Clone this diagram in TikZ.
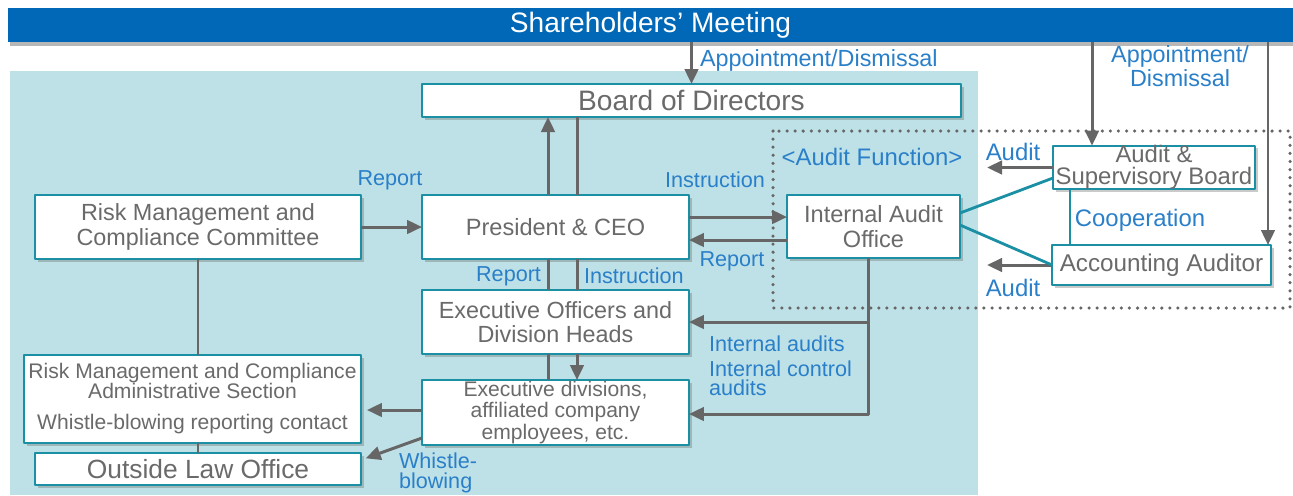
\documentclass[tikz,border=0pt]{standalone}
\usepackage{fontspec}
\setmainfont{Liberation Sans}
\usetikzlibrary{arrows.meta,positioning,calc,shadows}
\definecolor{barblue}{HTML}{0068B7}
\definecolor{panelblue}{HTML}{BEE1E7}
\definecolor{boxline}{HTML}{1B8FA3}
\definecolor{boxtext}{HTML}{6A6A6A}
\definecolor{lblblue}{HTML}{2A7FC9}
\definecolor{arrgray}{HTML}{666666}

\begin{document}
\begin{tikzpicture}[x=0.02cm, y=-0.02cm, line join=round,
                    every node/.style={outer sep=0pt}]

  \tikzset{
    box/.style={draw=boxline, fill=white, line width=1.1pt, inner sep=0pt, align=center,
                text=boxtext, font=\fontsize{13.4}{14}\selectfont,
                drop shadow={shadow xshift=1.6pt, shadow yshift=-1.6pt, opacity=0.35, fill=black!60}},
    bar/.style={fill=barblue, text=white, inner sep=0pt, font=\fontsize{16}{17}\selectfont,
                drop shadow={shadow xshift=1.2pt, shadow yshift=-2pt, opacity=0.4, fill=black!70}},
    lbl/.style={text=lblblue, font=\fontsize{12.3}{13}\selectfont, inner sep=0pt, align=left},
    biglbl/.style={lbl, font=\fontsize{13.6}{12}\selectfont},
    arr/.style={line width=1.7pt, draw=arrgray, -{Triangle[length=0.3cm, width=0.27cm]}},
    link/.style={line width=1.7pt, draw=arrgray},
    coop/.style={line width=1.6pt, draw=boxline},
    auditframe/.style={draw=arrgray, line width=2pt, line cap=round, dash pattern=on 0pt off 4.6pt}
  }

  \useasboundingbox (0,0) rectangle (1293,495);

  % Background
  \fill[panelblue] (10,71) rectangle (978,495);
  \draw[auditframe] (773,131) rectangle (1290,308);

  % Boxes
  \node[bar, minimum width=25.7cm, minimum height=0.68cm] (meeting) at (650.5,25) {Shareholders' Meeting};
  \node[box, minimum width=10.78cm, minimum height=0.66cm, font=\fontsize{16}{17}\selectfont] (board) at (691.5,100.5) {Board of Directors};
  \node[box, minimum width=5.34cm, minimum height=1.28cm] (ceo) at (555.5,227) {President \& CEO};
  \node[box, minimum width=6.52cm, minimum height=1.28cm, font=\fontsize{13.3}{13.8}\selectfont] (rmcc) at (198,227) {Risk Management and\\Compliance Committee};
  \node[box, minimum width=3.46cm, minimum height=1.26cm, font=\fontsize{13.4}{13.8}\selectfont] (iao) at (873.5,226.5) {Internal Audit\\Office};
  \node[box, minimum width=4.04cm, minimum height=0.82cm, font=\fontsize{13.6}{12.2}\selectfont] (asb) at (1154,167.5) {Audit \&\\Supervisory Board};
  \node[box, minimum width=4.38cm, minimum height=0.8cm, font=\fontsize{13.8}{14}\selectfont] (acct) at (1161.5,265) {Accounting Auditor};
  \node[box, minimum width=5.34cm, minimum height=1.28cm, font=\fontsize{13.3}{13.8}\selectfont] (eodh) at (555.5,322) {Executive Officers and\\Division Heads};
  \node[box, minimum width=5.34cm, minimum height=1.3cm, font=\fontsize{12}{12.2}\selectfont] (ediv) at (555.5,412.5) {Executive divisions,\\affiliated company\\employees, etc.};
  \node[box, minimum width=6.74cm, minimum height=1.76cm, font=\fontsize{12}{13}\selectfont] (rmcas) at (192.5,399) {Risk Management and Compliance\\[-2pt]Administrative Section\\[5pt]Whistle-blowing reporting contact};
  \node[box, minimum width=6.52cm, minimum height=0.64cm, font=\fontsize{15}{16}\selectfont] (law) at (198,469) {Outside Law Office};

  % Connectors
  \draw[arr] (meeting.south -| board.north) -- (board.north);
  \draw[arr] ([xshift=-0.15cm]ceo.north) -- ([xshift=-0.15cm]ceo.north |- board.south);
  \draw[link] ([xshift=0.43cm]board.south -| ceo.north) -- ([xshift=0.43cm]ceo.north);
  \draw[arr] (rmcc.east) -- (ceo.west);
  \draw[arr] ([yshift=0.2cm]ceo.east) -- ([yshift=0.2cm]ceo.east -| iao.west);
  \draw[arr] ([yshift=-0.26cm]ceo.east -| iao.west) -- ([yshift=-0.26cm]ceo.east);
  \draw[link] ([xshift=-0.15cm]ceo.south) -- ([xshift=-0.15cm]eodh.north);
  \draw[link] ([xshift=0.43cm]ceo.south) -- ([xshift=0.43cm]eodh.north);
  \draw[link] ([xshift=-0.15cm]eodh.south) -- ([xshift=-0.15cm]ediv.north);
  \draw[arr] ([xshift=0.43cm]eodh.south) -- ([xshift=0.43cm]ediv.north);
  \draw[arr] ([xshift=-0.11cm]iao.south) |- ([yshift=-0.03cm]ediv.east);
  \draw[arr] ([xshift=-0.11cm]iao.south |- eodh.east) -- (eodh.east);
  \draw[arr] ([xshift=-1.24cm]asb.north |- meeting.south) -- ([xshift=-1.24cm]asb.north);
  \draw[arr] ([xshift=-0.06cm]acct.north east |- meeting.south) -- ([xshift=-0.06cm]acct.north east);
  \draw[arr] (asb.west) -- ([xshift=-1.32cm]asb.west);
  \draw[arr] (acct.west) -- ([xshift=-1.3cm]acct.west);
  \draw[coop] ([yshift=0.27cm]iao.east) -- ([yshift=-0.21cm]asb.west);
  \draw[coop] ([yshift=0.03cm]iao.east) -- (acct.west);
  \draw[coop] ([xshift=-1.68cm]asb.south) -- ([xshift=-1.68cm]asb.south |- acct.north);
  \draw[link] (rmcc.south) -- (rmcc.south |- rmcas.north);
  \draw[link] (law.north |- rmcas.south) -- (law.north);
  \draw[arr, shorten >=0.12cm] ([yshift=0.05cm]ediv.west) -- ([yshift=0.05cm]ediv.west -| rmcas.east);
  \draw[arr, shorten >=0.1cm] ([yshift=-0.51cm]ediv.west) -- ([yshift=0.18cm]law.east);

  % Labels
  \node[lbl, anchor=west, font=\fontsize{13.3}{14}\selectfont] (lapp) at (700,60) {Appointment/Dismissal};
  \node[lbl, align=center, font=\fontsize{13.3}{12.2}\selectfont] (lapp2) at (1180,66) {Appointment/\\Dismissal};
  \node[lbl] (lrep1) at (390,180) {Report};
  \node[lbl] (linst1) at (715,180) {Instruction};
  \node[lbl] (lrep2) at (732,261) {Report};
  \node[biglbl] (lfunc) at (872,157) {<Audit Function>};
  \node[biglbl] (laud1) at (1013,152) {Audit};
  \node[biglbl] (laud2) at (1013,288) {Audit};
  \node[biglbl] (lcoop) at (1140,220) {Cooperation};
  \node[lbl, anchor=east] (lrep3) at (541,276) {Report};
  \node[lbl, anchor=west] (linst2) at (584,276) {Instruction};
  \node[lbl, anchor=west] (lint1) at (709,344) {Internal audits};
  \node[lbl, anchor=west, font=\fontsize{12.3}{11}\selectfont] (lint2) at (709,378) {Internal control\\audits};
  \node[lbl, anchor=west, font=\fontsize{12.3}{11}\selectfont] (lwhis) at (399,473) {Whistle-\\blowing};
\end{tikzpicture}
\end{document}
